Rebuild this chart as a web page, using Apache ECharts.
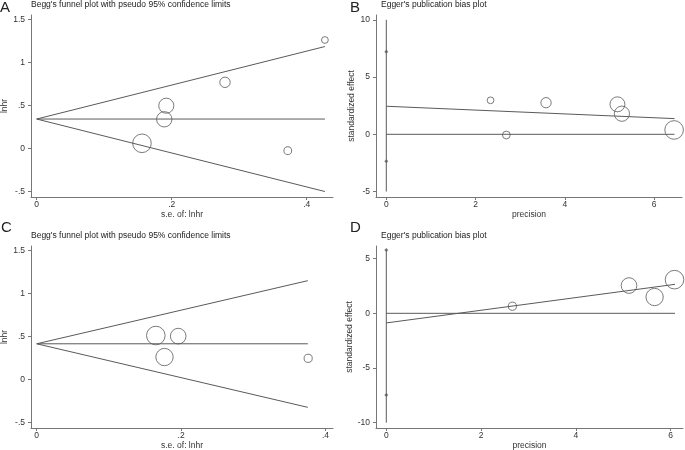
<!DOCTYPE html>
<html>
<head>
<meta charset="utf-8">
<script src="https://cdn.jsdelivr.net/npm/echarts@6/dist/echarts.min.js"></script>
<style>
  html, body { margin: 0; padding: 0; background: #fff; }
  #main { width: 685px; height: 450px; }
</style>
</head>
<body>
<div id="main"></div>
<script>
// A: Begg's funnel plot (first set)
var aSe = [0.427, 0.279, 0.192, 0.189, 0.156, 0.372];
var aLnhr = [1.264, 0.772, 0.500, 0.342, 0.063, -0.023];
var aFunnelSe = [0, 0.427];
var aUpper = [0.345, 1.188];
var aLower = [0.345, -0.498];
var aPooled = [0.345, 0.345];

// B: Egger's plot (first set)
var bPrec = [2.336, 2.69, 3.58, 5.18, 5.28, 6.45];
var bEffect = [2.97, -0.06, 2.76, 2.62, 1.80, 0.38];
var bRegX = [0, 6.46];
var bRegY = [2.45, 1.37];
var bCi = [7.21, -2.35];
var bCiLine = [10, -5];

// C: Begg's funnel plot (second set)
var cSe = [0.165, 0.196, 0.177, 0.376];
var cLnhr = [0.509, 0.502, 0.259, 0.244];
var cFunnelSe = [0, 0.3755];
var cUpper = [0.413, 1.147];
var cLower = [0.413, -0.326];
var cPooled = [0.413, 0.413];

// D: Egger's plot (second set)
var dPrec = [2.66, 5.12, 5.66, 6.08];
var dEffect = [0.65, 2.54, 1.49, 3.08];
var dRegX = [0, 6.09];
var dRegY = [-0.88, 2.65];
var dCi = [5.8, -7.47];
var dCiLine = [5.8, -10];

// tick labels
var beggXTicks = [0, 0.2, 0.4];
var beggYTicks = [-0.5, 0, 0.5, 1, 1.5];
var eggXTicks = [0, 2, 4, 6];
var bYTicks = [-5, 0, 5, 10];
var dYTicks = [-10, -5, 0, 5];

var FONT = "'Liberation Sans', Arial, sans-serif";
var LINE = '#5a5a5a';
var AXIS = '#777';
var TEXT = '#333';

function stataNum(v) {
    var s = String(Math.round(v * 1000) / 1000);
    return s.replace(/^(-?)0\./, '$1.');
}

function pairs(xs, ys) {
    var out = [];
    for (var i = 0; i < xs.length; i++) out.push([xs[i], ys[i]]);
    return out;
}

function mkX(idx, min, max, ticks, name) {
    return {
        gridIndex: idx, type: 'value', min: min, max: max,
        name: name, nameLocation: 'middle', nameGap: 11,
        nameTextStyle: { fontFamily: FONT, fontSize: 8.5, color: TEXT },
        axisLine: { show: true, onZero: false, lineStyle: { color: AXIS, width: 1 } },
        axisTick: { show: true, customValues: ticks, length: 3, lineStyle: { color: AXIS } },
        axisLabel: { customValues: ticks, formatter: stataNum, margin: 3,
            fontFamily: FONT, fontSize: 8.5, color: TEXT },
        splitLine: { show: false }
    };
}

function mkY(idx, min, max, ticks, name, gap) {
    return {
        gridIndex: idx, type: 'value', min: min, max: max,
        name: name, nameLocation: 'middle', nameGap: gap, nameRotate: 90,
        nameTextStyle: { fontFamily: FONT, fontSize: 8.5, color: TEXT },
        axisLine: { show: true, onZero: false, lineStyle: { color: AXIS, width: 1 } },
        axisTick: { show: true, customValues: ticks, length: 3, lineStyle: { color: AXIS } },
        axisLabel: { customValues: ticks, formatter: stataNum, margin: 6,
            fontFamily: FONT, fontSize: 8.5, color: TEXT },
        splitLine: { show: false }
    };
}

function seg(idx, data) {
    return {
        type: 'line', xAxisIndex: idx, yAxisIndex: idx, data: data,
        symbol: 'none', silent: true,
        lineStyle: { color: LINE, width: 1 }
    };
}

function circles(idx, data, sizeFn) {
    return {
        type: 'scatter', xAxisIndex: idx, yAxisIndex: idx, data: data,
        symbol: 'circle', symbolSize: sizeFn, silent: true,
        itemStyle: { color: 'rgba(0,0,0,0)', borderColor: LINE, borderWidth: 1 }
    };
}

function ciMarks(idx, ys) {
    return {
        type: 'scatter', xAxisIndex: idx, yAxisIndex: idx,
        data: ys.map(function (y) { return [0, y]; }),
        symbol: 'diamond', symbolSize: 4, silent: true,
        itemStyle: { color: LINE }
    };
}

// marker diameter proportional to precision (1/se), biggest ~18.6 px
var BIG = 18.6;
function beggSize(se) {
    var maxP = 1 / Math.min.apply(null, se);
    return function (val) { return BIG * (1 / val[0]) / maxP; };
}
function eggSize(prec) {
    var maxP = Math.max.apply(null, prec);
    return function (val) { return BIG * val[0] / maxP; };
}

var dom = document.getElementById('main');
var myChart = echarts.init(dom, null, { renderer: 'canvas' });

var titleStyle = { fontFamily: FONT, fontSize: 8.5, fontWeight: 'normal', color: '#222' };
var letterStyle = { fontFamily: FONT, fontSize: 15, fontWeight: 'normal', color: '#222' };

var option = {
    animation: false,
    backgroundColor: '#fff',
    title: [
        { text: 'A', left: 0, top: 0, textStyle: letterStyle, padding: 0 },
        { text: "Begg's funnel plot with pseudo 95% confidence limits", left: 31, top: 0, textStyle: titleStyle, padding: 0 },
        { text: 'B', left: 350, top: 0, textStyle: letterStyle, padding: 0 },
        { text: "Egger's publication bias plot", left: 381, top: 0, textStyle: titleStyle, padding: 0 },
        { text: 'C', left: 1, top: 220, textStyle: letterStyle, padding: 0 },
        { text: "Begg's funnel plot with pseudo 95% confidence limits", left: 31, top: 231, textStyle: titleStyle, padding: 0 },
        { text: 'D', left: 350, top: 220, textStyle: letterStyle, padding: 0 },
        { text: "Egger's publication bias plot", left: 381, top: 231, textStyle: titleStyle, padding: 0 }
    ],
    grid: [
        { left: 31, top: 15, width: 302, height: 182, outerBoundsMode: 'none', containLabel: false },
        { left: 376, top: 15, width: 306, height: 182, outerBoundsMode: 'none', containLabel: false },
        { left: 31, top: 246, width: 302, height: 182, outerBoundsMode: 'none', containLabel: false },
        { left: 376, top: 246, width: 307, height: 182, outerBoundsMode: 'none', containLabel: false }
    ],
    xAxis: [
        mkX(0, -0.00844, 0.4390, beggXTicks, 's.e. of: lnhr'),
        mkX(1, -0.2308, 6.627, eggXTicks, 'precision'),
        mkX(2, -0.0079, 0.4104, beggXTicks, 's.e. of: lnhr'),
        mkX(3, -0.2173, 6.259, eggXTicks, 'precision')
    ],
    yAxis: [
        mkY(0, -0.5616, 1.5547, beggYTicks, 'lnhr', 20),
        mkY(1, -5.475, 10.42, bYTicks, 'standardized effect', 19),
        mkY(2, -0.566, 1.55, beggYTicks, 'lnhr', 20),
        mkY(3, -10.49, 6.157, dYTicks, 'standardized effect', 19)
    ],
    series: [
        // A
        seg(0, pairs(aFunnelSe, aUpper)),
        seg(0, pairs(aFunnelSe, aLower)),
        seg(0, pairs(aFunnelSe, aPooled)),
        circles(0, pairs(aSe, aLnhr), beggSize(aSe)),
        // B
        seg(1, pairs([0, 0], bCiLine)),
        ciMarks(1, bCi),
        seg(1, pairs(bRegX, bRegY)),
        seg(1, pairs(bRegX, [0, 0])),
        circles(1, pairs(bPrec, bEffect), eggSize(bPrec)),
        // C
        seg(2, pairs(cFunnelSe, cUpper)),
        seg(2, pairs(cFunnelSe, cLower)),
        seg(2, pairs(cFunnelSe, cPooled)),
        circles(2, pairs(cSe, cLnhr), beggSize(cSe)),
        // D
        seg(3, pairs([0, 0], dCiLine)),
        ciMarks(3, dCi),
        seg(3, pairs(dRegX, dRegY)),
        seg(3, pairs(dRegX, [0, 0])),
        circles(3, pairs(dPrec, dEffect), eggSize(dPrec))
    ]
};

if (option && typeof option === "object") {
    myChart.setOption(option, true);
}
</script>
</body>
</html>
